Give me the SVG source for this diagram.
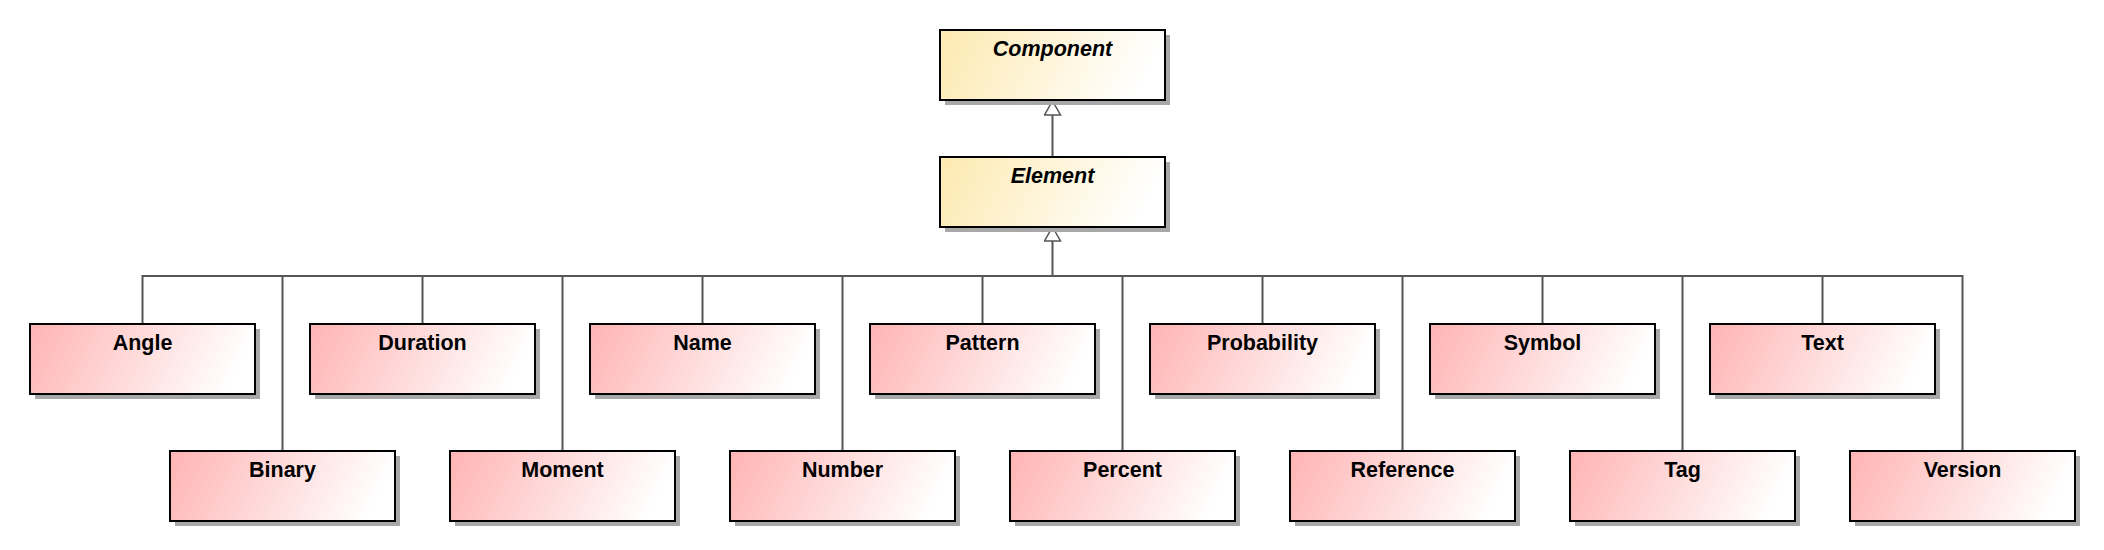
<svg xmlns="http://www.w3.org/2000/svg" width="2104" height="550" viewBox="0 0 2104 550">
<defs>
<linearGradient id="gy" x1="0" y1="0" x2="1" y2="0.15"><stop offset="0" stop-color="#FDE9B0"/><stop offset="1" stop-color="#FFFFFF"/></linearGradient>
<linearGradient id="gp" x1="0" y1="0" x2="1" y2="0.15"><stop offset="0" stop-color="#FFB3B3"/><stop offset="1" stop-color="#FFFFFF"/></linearGradient>
<marker id="tri" markerWidth="16" markerHeight="18" refX="15" refY="9" orient="auto" markerUnits="userSpaceOnUse"><path d="M1,1 L15,9 L1,17 Z" fill="#fff" stroke="#555" stroke-width="1.5"/></marker>
</defs>
<style>
.sh{fill:#A8A8A8}
.by{fill:url(#gy);stroke:#000;stroke-width:2}
.bp{fill:url(#gp);stroke:#000;stroke-width:2}
.t{font-family:"Liberation Sans",Arial,sans-serif;font-size:21.5px;font-weight:bold;text-anchor:middle;fill:#000}
.i{font-style:italic}
.c{fill:none;stroke:#555;stroke-width:2}
</style>
<rect width="2104" height="550" fill="#fff"/>
<g id="connectors">
<path class="c" d="M1052.5,156 V101" marker-end="url(#tri)"/>
<path class="c" d="M1052.5,276 V227" marker-end="url(#tri)"/>
<path class="c" d="M142.5,324 V276 H1962.5 V451"/>
<path class="c" d="M282.5,276 V451 M422.5,276 V324 M562.5,276 V451 M702.5,276 V324 M842.5,276 V451 M982.5,276 V324 M1122.5,276 V451 M1262.5,276 V324 M1402.5,276 V451 M1542.5,276 V324 M1682.5,276 V451 M1822.5,276 V324"/>
</g>
<g id="Component"><rect class="sh" x="945" y="35" width="225" height="70"/><rect class="by" x="940" y="30" width="225" height="70"/><text class="t i" x="1052.5" y="56">Component</text></g>
<g id="Element"><rect class="sh" x="945" y="162" width="225" height="70"/><rect class="by" x="940" y="157" width="225" height="70"/><text class="t i" x="1052.5" y="183">Element</text></g>
<g id="Angle"><rect class="sh" x="35" y="329" width="225" height="70"/><rect class="bp" x="30" y="324" width="225" height="70"/><text class="t" x="142.5" y="350">Angle</text></g>
<g id="Binary"><rect class="sh" x="175" y="456" width="225" height="70"/><rect class="bp" x="170" y="451" width="225" height="70"/><text class="t" x="282.5" y="477">Binary</text></g>
<g id="Duration"><rect class="sh" x="315" y="329" width="225" height="70"/><rect class="bp" x="310" y="324" width="225" height="70"/><text class="t" x="422.5" y="350">Duration</text></g>
<g id="Moment"><rect class="sh" x="455" y="456" width="225" height="70"/><rect class="bp" x="450" y="451" width="225" height="70"/><text class="t" x="562.5" y="477">Moment</text></g>
<g id="Name"><rect class="sh" x="595" y="329" width="225" height="70"/><rect class="bp" x="590" y="324" width="225" height="70"/><text class="t" x="702.5" y="350">Name</text></g>
<g id="Number"><rect class="sh" x="735" y="456" width="225" height="70"/><rect class="bp" x="730" y="451" width="225" height="70"/><text class="t" x="842.5" y="477">Number</text></g>
<g id="Pattern"><rect class="sh" x="875" y="329" width="225" height="70"/><rect class="bp" x="870" y="324" width="225" height="70"/><text class="t" x="982.5" y="350">Pattern</text></g>
<g id="Percent"><rect class="sh" x="1015" y="456" width="225" height="70"/><rect class="bp" x="1010" y="451" width="225" height="70"/><text class="t" x="1122.5" y="477">Percent</text></g>
<g id="Probability"><rect class="sh" x="1155" y="329" width="225" height="70"/><rect class="bp" x="1150" y="324" width="225" height="70"/><text class="t" x="1262.5" y="350">Probability</text></g>
<g id="Reference"><rect class="sh" x="1295" y="456" width="225" height="70"/><rect class="bp" x="1290" y="451" width="225" height="70"/><text class="t" x="1402.5" y="477">Reference</text></g>
<g id="Symbol"><rect class="sh" x="1435" y="329" width="225" height="70"/><rect class="bp" x="1430" y="324" width="225" height="70"/><text class="t" x="1542.5" y="350">Symbol</text></g>
<g id="Tag"><rect class="sh" x="1575" y="456" width="225" height="70"/><rect class="bp" x="1570" y="451" width="225" height="70"/><text class="t" x="1682.5" y="477">Tag</text></g>
<g id="Text"><rect class="sh" x="1715" y="329" width="225" height="70"/><rect class="bp" x="1710" y="324" width="225" height="70"/><text class="t" x="1822.5" y="350">Text</text></g>
<g id="Version"><rect class="sh" x="1855" y="456" width="225" height="70"/><rect class="bp" x="1850" y="451" width="225" height="70"/><text class="t" x="1962.5" y="477">Version</text></g>
</svg>
